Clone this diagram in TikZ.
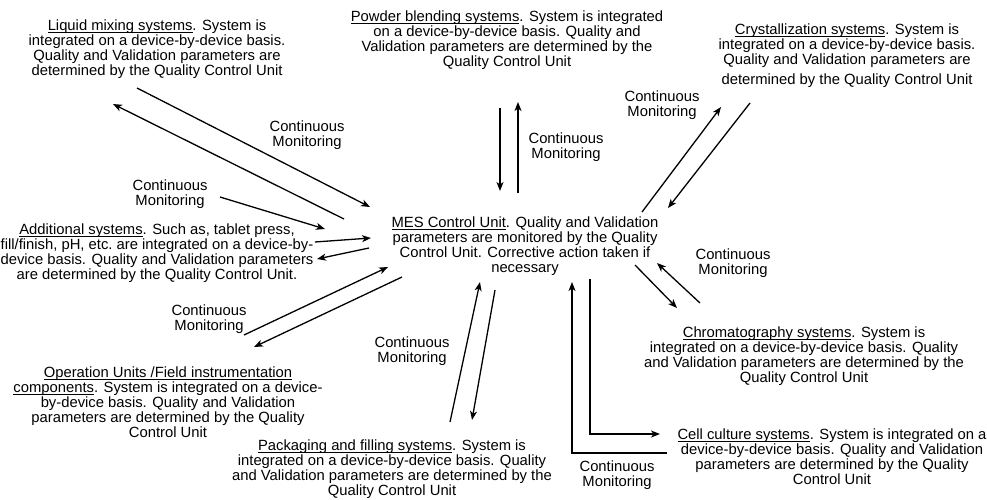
\documentclass[tikz,border=0pt]{standalone}
\usepackage{fontspec}
\setmainfont{Liberation Sans}
\usetikzlibrary{arrows.meta}
\newcommand\ulx[1]{\setbox0\hbox{#1}\rlap{\rule[-2.6pt]{\wd0}{1pt}}\box0}
\begin{document}
\begin{tikzpicture}[x=1pt,y=-1pt,
  txt/.style={align=center, inner sep=0pt, font=\fontsize{14.8}{15}\selectfont},
  arr/.style={-{Stealth[length=9pt,width=7pt,inset=2.5pt]}, line width=1.3pt},
  ln/.style={line width=1.3pt}]
\useasboundingbox (0,0) rectangle (987,499);

% system nodes
\node[txt] (liq) at (157,49) {\ulx{Liquid mixing systems}. System is\\integrated on a device-by-device basis.\\Quality and Validation parameters are\\determined by the Quality Control Unit};
\node[txt] (pow) at (507,40) {\ulx{Powder blending systems}. System is integrated\\on a device-by-device basis. Quality and\\Validation parameters are determined by the\\Quality Control Unit};
\node[txt] (cry) at (847,56) {\ulx{Crystallization systems}. System is\\integrated on a device-by-device basis.\\Quality and Validation parameters are\\[5pt]determined by the Quality Control Unit};
\node[txt] (add) at (157,253) {\ulx{Additional systems}. Such as, tablet press,\\fill/finish, pH, etc.\ are integrated on a device-by-\\device basis. Quality and Validation parameters\\are determined by the Quality Control Unit.};
\node[txt] (mes) at (525,246) {\ulx{MES Control Unit}. Quality and Validation\\parameters are monitored by the Quality\\Control Unit. Corrective action taken if\\necessary};
\node[txt] (ope) at (168,402) {\ulx{Operation Units /Field instrumentation}\\\ulx{components}. System is integrated on a device-\\by-device basis. Quality and Validation\\parameters are determined by the Quality\\Control Unit};
\node[txt] (pac) at (392,469) {\ulx{Packaging and filling systems}. System is\\integrated on a device-by-device basis. Quality\\and Validation parameters are determined by the\\Quality Control Unit};
\node[txt] (chr) at (804,356) {\ulx{Chromatography systems}. System is\\integrated on a device-by-device basis. Quality\\and Validation parameters are determined by the\\Quality Control Unit};
\node[txt] (cel) at (832,457) {\ulx{Cell culture systems}. System is integrated on a\\device-by-device basis. Quality and Validation\\parameters are determined by the Quality\\Control Unit};

% monitoring labels
\node[txt] (cm1) at (307,135) {Continuous\\Monitoring};
\node[txt] (cm2) at (170,194) {Continuous\\Monitoring};
\node[txt] (cm3) at (209,319) {Continuous\\Monitoring};
\node[txt] (cm4) at (566,147) {Continuous\\Monitoring};
\node[txt] (cm5) at (662,105) {Continuous\\Monitoring};
\node[txt] (cm6) at (733,263) {Continuous\\Monitoring};
\node[txt] (cm7) at (412,351) {Continuous\\Monitoring};
\node[txt] (cm8) at (617,475) {Continuous\\Monitoring};

% connector end points
\coordinate (l1s) at (137,88);  \coordinate (l1e) at (370,207);
\coordinate (l2s) at (344,219); \coordinate (l2e) at (113,104);
\coordinate (u1s) at (220,197); \coordinate (u1e) at (325,229);
\coordinate (a1s) at (315,242); \coordinate (a1e) at (371,238);
\coordinate (a2s) at (369,248); \coordinate (a2e) at (317,259);
\coordinate (o1s) at (244,335); \coordinate (o1e) at (388,267);
\coordinate (o2s) at (402,277); \coordinate (o2e) at (254,347);
\coordinate (p1s) at (450,422); \coordinate (p1e) at (480,282);
\coordinate (p2s) at (495,290); \coordinate (p2e) at (472,420);
\coordinate (b1s) at (500,108); \coordinate (b1e) at (500,191);
\coordinate (b2s) at (518,193); \coordinate (b2e) at (518,102);
\coordinate (c1s) at (642,212); \coordinate (c1e) at (721,107);
\coordinate (c2s) at (750,103); \coordinate (c2e) at (668,208);
\coordinate (h1s) at (635,265); \coordinate (h1e) at (677,308);
\coordinate (h2s) at (700,303); \coordinate (h2e) at (657,263);
\coordinate (e1s) at (667,453); \coordinate (e1c) at (572,453); \coordinate (e1e) at (572,282);
\coordinate (e2s) at (590,279); \coordinate (e2c) at (590,434); \coordinate (e2e) at (660,434);

% connectors
\draw[arr] (l1s) -- (l1e);
\draw[arr] (l2s) -- (l2e);
\draw[arr] (u1s) -- (u1e);
\draw[arr] (a1s) -- (a1e);
\draw[arr] (a2s) -- (a2e);
\draw[arr] (o1s) -- (o1e);
\draw[arr] (o2s) -- (o2e);
\draw[arr] (p1s) -- (p1e);
\draw[arr] (p2s) -- (p2e);
\draw[arr] (b1s) -- (b1e);
\draw[arr] (b2s) -- (b2e);
\draw[arr] (c1s) -- (c1e);
\draw[arr] (c2s) -- (c2e);
\draw[arr] (h1s) -- (h1e);
\draw[arr] (h2s) -- (h2e);
\draw[arr] (e1s) -- (e1c) -- (e1e);
\draw[arr] (e2s) -- (e2c) -- (e2e);
\end{tikzpicture}
\end{document}
